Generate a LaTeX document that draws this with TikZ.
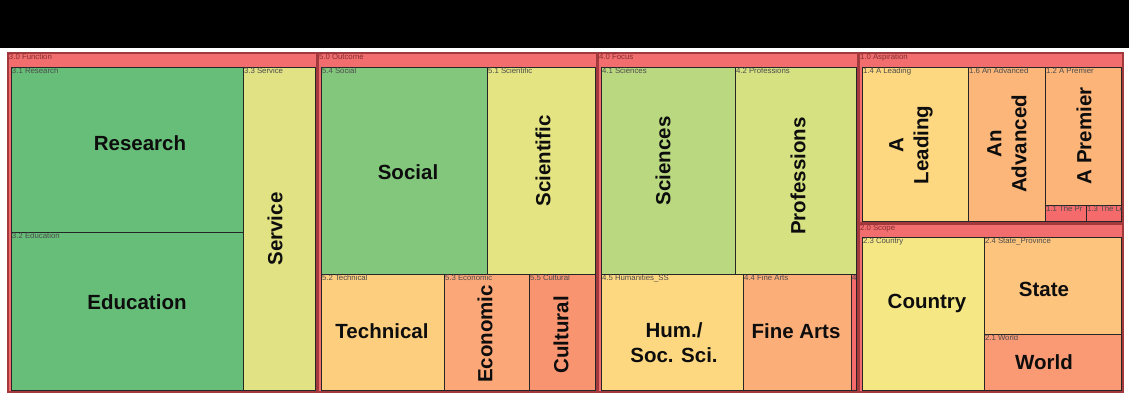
\documentclass[tikz,border=0pt]{standalone}
\usepackage{fontspec}
\setmainfont{Liberation Sans}
\definecolor{grpred}{HTML}{F26D6E}
\definecolor{grpline}{HTML}{A23A3D}
\definecolor{cResearch}{HTML}{66BE78}
\definecolor{cService}{HTML}{E0E283}
\definecolor{cSocial}{HTML}{82C77C}
\definecolor{cScientific}{HTML}{E4E483}
\definecolor{cSciences}{HTML}{B9D880}
\definecolor{cProfessions}{HTML}{D6E182}
\definecolor{cTechnical}{HTML}{FDCE7E}
\definecolor{cEconomic}{HTML}{FBA777}
\definecolor{cCultural}{HTML}{F99471}
\definecolor{cHum}{HTML}{FED880}
\definecolor{cFine}{HTML}{FCAE78}
\definecolor{cRed}{HTML}{F56B6C}
\definecolor{cLeading}{HTML}{FED880}
\definecolor{cAdvanced}{HTML}{FCB679}
\definecolor{cPremier}{HTML}{FCB479}
\definecolor{cCountry}{HTML}{F4E784}
\definecolor{cState}{HTML}{FDC47D}
\definecolor{cWorld}{HTML}{FA9A74}
\tikzset{
  grp/.style={fill=grpred, draw=grpline, line width=1.6pt},
  cell/.style={draw=black!85, line width=0.8pt},
  small/.style={anchor=north west, inner sep=0.8pt, text=black!70, font=\fontsize{7.8}{9}\selectfont},
  gsmall/.style={small, text=grpline!80!black},
  big/.style={font=\fontsize{20.5}{25}\selectfont\bfseries, text=black!95, align=center, inner sep=0pt},
  vbig/.style={big, rotate=90}
}
\begin{document}
\begin{tikzpicture}[x=1pt, y=-1pt]
\useasboundingbox (0,0) rectangle (1129,397);
\fill[white] (0,0) rectangle (1129,397);
\fill[black] (0,0) rectangle (1129,48);

% ---- 3.0 Function
\draw[grp] (8,53) rectangle (317,392);
\node[gsmall] (g3) at (8,53) {3.0 Function};
\draw[cell, fill=cResearch] (11,67) rectangle (243,232);
\draw[cell, fill=cResearch] (11,232) rectangle (243,390);
\draw[cell, fill=cService] (243,67) rectangle (315,390);
\node[small] (l31) at (11,67) {3.1 Research};
\node[small] (l32) at (11,232) {3.2 Education};
\node[small] (l33) at (243,67) {3.3 Service};
\node[big] (research) at (140,143) {Research};
\node[big] (education) at (137,302) {Education};
\node[vbig] (service) at (275,229) {Service};

% ---- 5.0 Outcome
\draw[grp] (318,53) rectangle (597,392);
\node[gsmall] (g5) at (318,53) {5.0 Outcome};
\draw[cell, fill=cSocial] (321,67) rectangle (487,274);
\draw[cell, fill=cScientific] (487,67) rectangle (595,274);
\draw[cell, fill=cTechnical] (321,274) rectangle (444,390);
\draw[cell, fill=cEconomic] (444,274) rectangle (529,390);
\draw[cell, fill=cCultural] (529,274) rectangle (595,390);
\node[small] (l54) at (321,67) {5.4 Social};
\node[small] (l51) at (487,67) {5.1 Scientific};
\node[small] (l52) at (321,274) {5.2 Technical};
\node[small] (l53) at (444,274) {5.3 Economic};
\node[small] (l55) at (529,274) {5.5 Cultural};
\node[big] (social) at (408,172) {Social};
\node[vbig] (scientific) at (543,161) {Scientific};
\node[big] (technical) at (382,331) {Technical};
\node[vbig] (economic) at (485,334) {Economic};
\node[vbig] (cultural) at (561,335) {Cultural};

% ---- 4.0 Focus
\draw[grp] (598,53) rectangle (858,392);
\node[gsmall] (g4) at (598,53) {4.0 Focus};
\draw[cell, fill=cSciences] (601,67) rectangle (735,274);
\draw[cell, fill=cProfessions] (735,67) rectangle (856,274);
\draw[cell, fill=cHum] (601,274) rectangle (743,390);
\draw[cell, fill=cFine] (743,274) rectangle (851,390);
\draw[cell, fill=cRed] (851,274) rectangle (856,390);
\node[small] (l41) at (601,67) {4.1 Sciences};
\node[small] (l42) at (735,67) {4.2 Professions};
\node[small] (l45) at (601,274) {4.5 Humanities\_SS};
\node[small] (l44) at (743,274) {4.4 Fine Arts};
\begin{scope}
\clip (851,274) rectangle (856,390);
\node[small] (l4x) at (851,274) {4};
\end{scope}
\node[vbig] (sciences) at (663,161) {Sciences};
\node[vbig] (professions) at (798,176) {Professions};
\node[big] (hum) at (674,343) {Hum./\\Soc. Sci.};
\node[big] (finearts) at (796,331) {Fine Arts};

% ---- 1.0 Aspiration
\draw[grp] (859,53) rectangle (1123,223);
\node[gsmall] (g1) at (859,53) {1.0 Aspiration};
\draw[cell, fill=cLeading] (862,67) rectangle (968,221);
\draw[cell, fill=cAdvanced] (968,67) rectangle (1045,221);
\draw[cell, fill=cPremier] (1045,67) rectangle (1121,205);
\draw[cell, fill=cRed] (1045,205) rectangle (1086,221);
\draw[cell, fill=cRed] (1086,205) rectangle (1121,221);
\node[small] (l14) at (862,67) {1.4 A Leading};
\node[small] (l16) at (968,67) {1.6 An Advanced};
\node[small] (l12) at (1045,67) {1.2 A Premier};
\begin{scope}
\clip (1045,205) rectangle (1086,221);
\node[small] (l11) at (1045,205) {1.1 The Pr};
\end{scope}
\begin{scope}
\clip (1086,205) rectangle (1121,221);
\node[small] (l13) at (1086,205) {1.3 The Le};
\end{scope}
\node[vbig] (leading) at (911,145) {A\\Leading};
\node[vbig] (advanced) at (1007,144) {An\\Advanced};
\node[vbig] (premier) at (1084,136) {A Premier};

% ---- 2.0 Scope
\draw[grp] (859,224) rectangle (1123,392);
\node[gsmall] (g2) at (859,224) {2.0 Scope};
\draw[cell, fill=cCountry] (862,237) rectangle (984,390);
\draw[cell, fill=cState] (984,237) rectangle (1121,334);
\draw[cell, fill=cWorld] (984,334) rectangle (1121,390);
\node[small] (l23) at (862,237) {2.3 Country};
\node[small] (l24) at (984,237) {2.4 State\_Province};
\node[small] (l21) at (984,334) {2.1 World};
\node[big] (country) at (927,303) {Country};
\node[big] (state) at (1044,289) {State};
\node[big] (world) at (1044,362) {World};
\end{tikzpicture}
\end{document}
